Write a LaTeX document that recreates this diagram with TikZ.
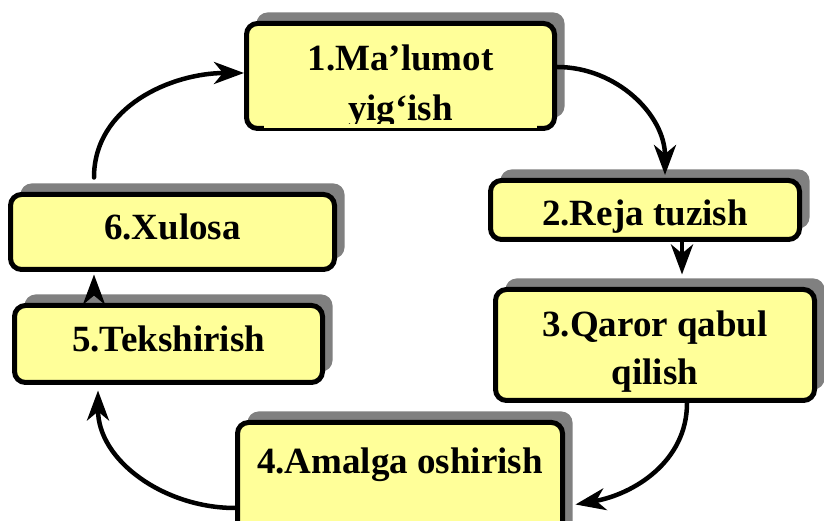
\documentclass[tikz,border=0pt]{standalone}
\usepackage{fontspec}
\setmainfont{Liberation Serif}
\usetikzlibrary{shadows,arrows.meta}
\definecolor{boxyellow}{HTML}{FFFF99}
\begin{document}
\begin{tikzpicture}[x=1pt, y=1pt, line cap=round]
  % styles
  \tikzset{
    stepbox/.style={draw=black, line width=5pt, fill=boxyellow, rounded corners=11pt,
      drop shadow={shadow xshift=10pt, shadow yshift=11pt, fill=gray, opacity=1},
      anchor=base, inner sep=0pt, align=center,
      font=\fontsize{37}{47.5}\selectfont\bfseries},
    cyclearrow/.style={line width=4.5pt, -{Stealth[length=30pt, width=22pt, inset=9pt]}}
  }
  \useasboundingbox (0,0) rectangle (824,521);
  \clip (0,0) rectangle (824,521);
  % boxes
  \node[stepbox, minimum width=308pt, text height=97.5pt, text depth=7.5pt] (m1) at (400.5,400) {1.Ma’lumot\\[3pt]yig‘ish};
  \node[stepbox, minimum width=309pt, text height=45.5pt, text depth=13.5pt] (m2) at (645,295) {2.Reja tuzish};
  \node[stepbox, minimum width=319pt, text height=95.5pt, text depth=15.5pt] (m3) at (655,136) {3.Qaror qabul\\[1pt]qilish};
  \node[stepbox, minimum width=325pt, text height=51.5pt, text depth=70pt] (m4) at (400,47) {4.Amalga oshirish};
  \node[stepbox, minimum width=308pt, text height=46.5pt, text depth=30.5pt] (m5) at (168.5,169) {5.Tekshirish};
  \node[stepbox, minimum width=324pt, text height=45.5pt, text depth=29.5pt] (m6) at (172.5,281) {6.Xulosa};
  % text of box 1 ends above its border
  \fill[boxyellow] ([xshift=20pt,yshift=2.5pt]m1.south west) rectangle ([xshift=-20pt,yshift=7pt]m1.south east);
  % arrows
  \draw[cyclearrow] ([xshift=-78.5pt,yshift=14.5pt]m6.north) to[out=90,in=180] ([yshift=3pt]m1.west);
  \draw[cyclearrow] ([yshift=9pt]m1.east) to[out=0,in=90] ([xshift=20pt,yshift=3pt]m2.north);
  \draw[cyclearrow] ([xshift=37pt]m2.south) -- ([xshift=27pt,yshift=12.5pt]m3.north);
  \draw[cyclearrow] ([xshift=32pt]m3.south) to[out=-90,in=10] ([xshift=10.5pt,yshift=-84.5pt]m4.north east);
  \draw[cyclearrow] ([yshift=-88pt]m4.north west) to[out=180,in=-90] ([xshift=-70.5pt,yshift=-5.5pt]m5.south);
  \draw[cyclearrow] ([xshift=-74.5pt,yshift=13.5pt]m5.north) -- ([xshift=-78.5pt,yshift=-2.5pt]m6.south);
\end{tikzpicture}
\end{document}
